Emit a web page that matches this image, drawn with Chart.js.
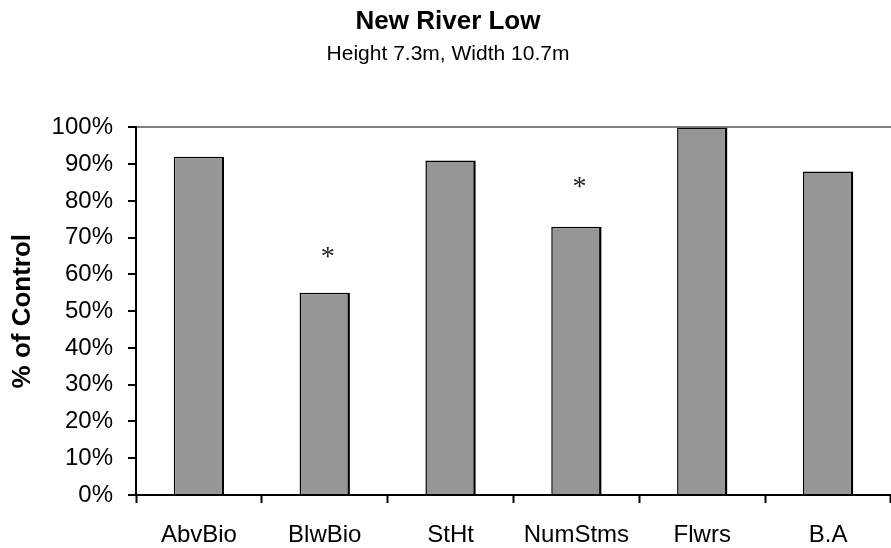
<!DOCTYPE html>
<html>
<head>
<meta charset="utf-8">
<script src="https://cdn.jsdelivr.net/npm/chart.js@4.4.1/dist/chart.umd.min.js"></script>
<style>
  html, body { margin: 0; padding: 0; background: #fff; overflow: hidden; }
  #wrap { width: 891px; height: 548px; position: relative; }
</style>
</head>
<body>
<div id="wrap"><canvas id="c" width="891" height="548"></canvas></div>
<script>
// ---- data ----
const categories = ['AbvBio', 'BlwBio', 'StHt', 'NumStms', 'Flwrs', 'B.A'];
const percentOfControl = [92, 55, 91, 73, 100, 88];
const significanceMarkLevel = [null, 66, null, 85, null, null];
const yTickValues = [0, 10, 20, 30, 40, 50, 60, 70, 80, 90, 100];
const chartTitle = 'New River Low';
const chartSubtitle = 'Height 7.3m, Width 10.7m';
const yAxisTitle = '% of Control';

const FONT = "'Liberation Sans', Arial, sans-serif";

const asteriskPlugin = {
  id: 'asterisks',
  afterDatasetsDraw(chart) {
    const ctx = chart.ctx;
    const x = chart.scales.x, y = chart.scales.y;
    ctx.save();
    ctx.fillStyle = '#222';
    ctx.font = "28px 'Liberation Serif', 'Times New Roman', serif";
    ctx.textAlign = 'center';
    ctx.textBaseline = 'middle';
    significanceMarkLevel.forEach((v, i) => {
      if (v === null) return;
      ctx.fillText('*', x.getPixelForValue(i) + 3, y.getPixelForValue(v) + 5);
    });
    ctx.restore();
  }
};

new Chart(document.getElementById('c'), {
  type: 'bar',
  data: {
    labels: categories,
    datasets: [{
      data: percentOfControl,
      backgroundColor: '#969696',
      borderColor: '#000',
      borderWidth: { top: 1.5, left: 1.5, right: 2.5, bottom: 0 },
      borderSkipped: false,
      categoryPercentage: 1,
      barPercentage: 0.4
    }]
  },
  plugins: [asteriskPlugin],
  options: {
    responsive: false,
    animation: false,
    devicePixelRatio: 1,
    layout: { padding: { left: 0, right: -5, top: 0, bottom: 0 } },
    plugins: {
      legend: { display: false },
      tooltip: { enabled: false },
      title: {
        display: true,
        text: chartTitle,
        color: '#000',
        font: { family: FONT, size: 26, weight: 'bold' },
        padding: { top: 6, bottom: 4 }
      },
      subtitle: {
        display: true,
        text: chartSubtitle,
        color: '#000',
        font: { family: FONT, size: 21 },
        padding: { top: 0, bottom: 61 }
      }
    },
    scales: {
      x: {
        offset: true,
        grid: {
          offset: true,
          drawOnChartArea: false,
          drawTicks: true,
          tickLength: 8,
          tickColor: '#000',
          tickWidth: 2
        },
        border: { display: true, color: '#000', width: 2 },
        ticks: {
          color: '#000',
          font: { family: FONT, size: 24 },
          padding: 18,
          maxRotation: 0,
          autoSkip: false
        },
        afterFit(scale) { scale.height = 53; }
      },
      y: {
        min: 0,
        max: 100,
        afterBuildTicks(scale) { scale.ticks = yTickValues.map(v => ({ value: v })); },
        grid: {
          drawOnChartArea: true,
          color: ctx => (ctx.tick && ctx.tick.value === 100 ? '#808080' : 'rgba(0,0,0,0)'),
          lineWidth: 2,
          tickLength: 8,
          tickColor: '#000',
          tickWidth: 2
        },
        border: { display: true, color: '#000', width: 2 },
        ticks: {
          color: '#000',
          font: { family: FONT, size: 24 },
          padding: 15,
          callback: v => v + '%'
        },
        title: {
          display: true,
          text: yAxisTitle,
          color: '#000',
          font: { family: FONT, size: 26, weight: 'bold' },
          padding: { top: 7, bottom: 0 }
        },
        afterFit(scale) { scale.width = 136; }
      }
    }
  }
});
</script>
</body>
</html>
